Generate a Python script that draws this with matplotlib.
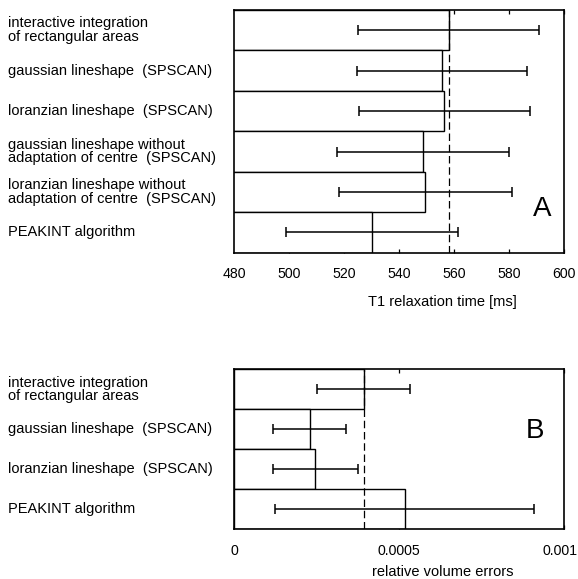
import matplotlib
matplotlib.use("Agg")
import matplotlib.pyplot as plt
from matplotlib.transforms import ScaledTranslation

plt.rcParams["font.family"] = ["Liberation Sans", "DejaVu Sans"]

# Panel A: T1 relaxation time [ms]
methods_a = [
    "interactive integration\nof rectangular areas",
    "gaussian lineshape  (SPSCAN)",
    "loranzian lineshape  (SPSCAN)",
    "gaussian lineshape without\nadaptation of centre  (SPSCAN)",
    "loranzian lineshape without\nadaptation of centre  (SPSCAN)",
    "PEAKINT algorithm",
]
t1_values = [557.9, 555.5, 556.4, 548.6, 549.5, 530.0]
t1_errors = [32.8, 30.9, 31.2, 31.4, 31.5, 31.3]
t1_reference = 558.0
t1_ticks = [480, 500, 520, 540, 560, 580, 600]

# Panel B: relative volume errors
methods_b = [
    "interactive integration\nof rectangular areas",
    "gaussian lineshape  (SPSCAN)",
    "loranzian lineshape  (SPSCAN)",
    "PEAKINT algorithm",
]
vol_values = [0.000392, 0.000228, 0.000245, 0.000516]
vol_errors = [0.000141, 0.000111, 0.000129, 0.000393]
vol_reference = 0.000392
vol_ticks = [0, 0.0005, 0.001]
vol_ticklabels = ["0", "0.0005", "0.001"]

FIG_W, FIG_H = 578, 579
AX_LEFT, AX_RIGHT = 234.3, 564.3
LABEL_X = 8


def draw_panel(ax, methods, values, errors, ref, xlim, ticks, ticklabels, xlabel, labelpad,
               letter, letter_pos):
    n = len(methods)
    y = list(range(n))
    ax.barh(y, values, height=1.0, color="white", edgecolor="black", linewidth=1.0, zorder=2)
    ax.axvline(ref, color="black", linewidth=0.9, dashes=(6, 3), zorder=3)
    ax.errorbar(values, y, xerr=errors, fmt="none", ecolor="black", elinewidth=1.1,
                capsize=3.5, capthick=1.1, zorder=4)
    ax.set_xlim(*xlim)
    ax.set_ylim(n - 0.5, -0.5)

    ax.set_xticks(ticks)
    ax.set_xticklabels(ticklabels)
    ax.tick_params(axis="x", direction="in", length=3, width=0.9, top=True, bottom=True,
                   labelsize=10.2, pad=10.5)
    ax.set_xlabel(xlabel, fontsize=10.5, x=0.632, labelpad=labelpad)

    # Method names, left-aligned near the figure edge
    ax.set_yticks(y)
    ax.set_yticklabels(methods)
    pad_pt = (AX_LEFT - LABEL_X) * 72 / 100
    ax.tick_params(axis="y", length=0, labelsize=10.5, pad=pad_pt)
    for lbl in ax.get_yticklabels():
        lbl.set_horizontalalignment("left")
        lbl.set_verticalalignment("center")
        lbl.set_linespacing(0.95)

    for spine in ax.spines.values():
        spine.set_linewidth(1.2)

    ax.text(letter_pos[0], letter_pos[1], letter, transform=ax.transAxes, fontsize=20,
            ha="center", va="center")


fig = plt.figure(figsize=(FIG_W / 100, FIG_H / 100), dpi=100, facecolor="white")

ax_a = fig.add_axes([AX_LEFT / FIG_W, 1 - 252.7 / FIG_H,
                     (AX_RIGHT - AX_LEFT) / FIG_W, (252.7 - 10) / FIG_H])
draw_panel(ax_a, methods_a, t1_values, t1_errors, t1_reference, (480, 600), t1_ticks,
           [str(t) for t in t1_ticks], "T1 relaxation time [ms]", 10, "A",
           ((541.7 - AX_LEFT) / (AX_RIGHT - AX_LEFT), (252.7 - 209) / (252.7 - 10)))

ax_b = fig.add_axes([AX_LEFT / FIG_W, 1 - 529 / FIG_H,
                     (AX_RIGHT - AX_LEFT) / FIG_W, (529 - 369.3) / FIG_H])
draw_panel(ax_b, methods_b, vol_values, vol_errors, vol_reference, (0, 0.001), vol_ticks,
           vol_ticklabels, "relative volume errors", 5.5, "B",
           ((535 - AX_LEFT) / (AX_RIGHT - AX_LEFT), (529 - 431.5) / (529 - 369.3)))

# nudge the right-most label in B so it stays inside the figure, as in the original
last = ax_b.get_xticklabels()[-1]
last.set_transform(last.get_transform() + ScaledTranslation(-4 / 100, 0, fig.dpi_scale_trans))

fig.savefig("out.png", dpi=100, facecolor="white")
